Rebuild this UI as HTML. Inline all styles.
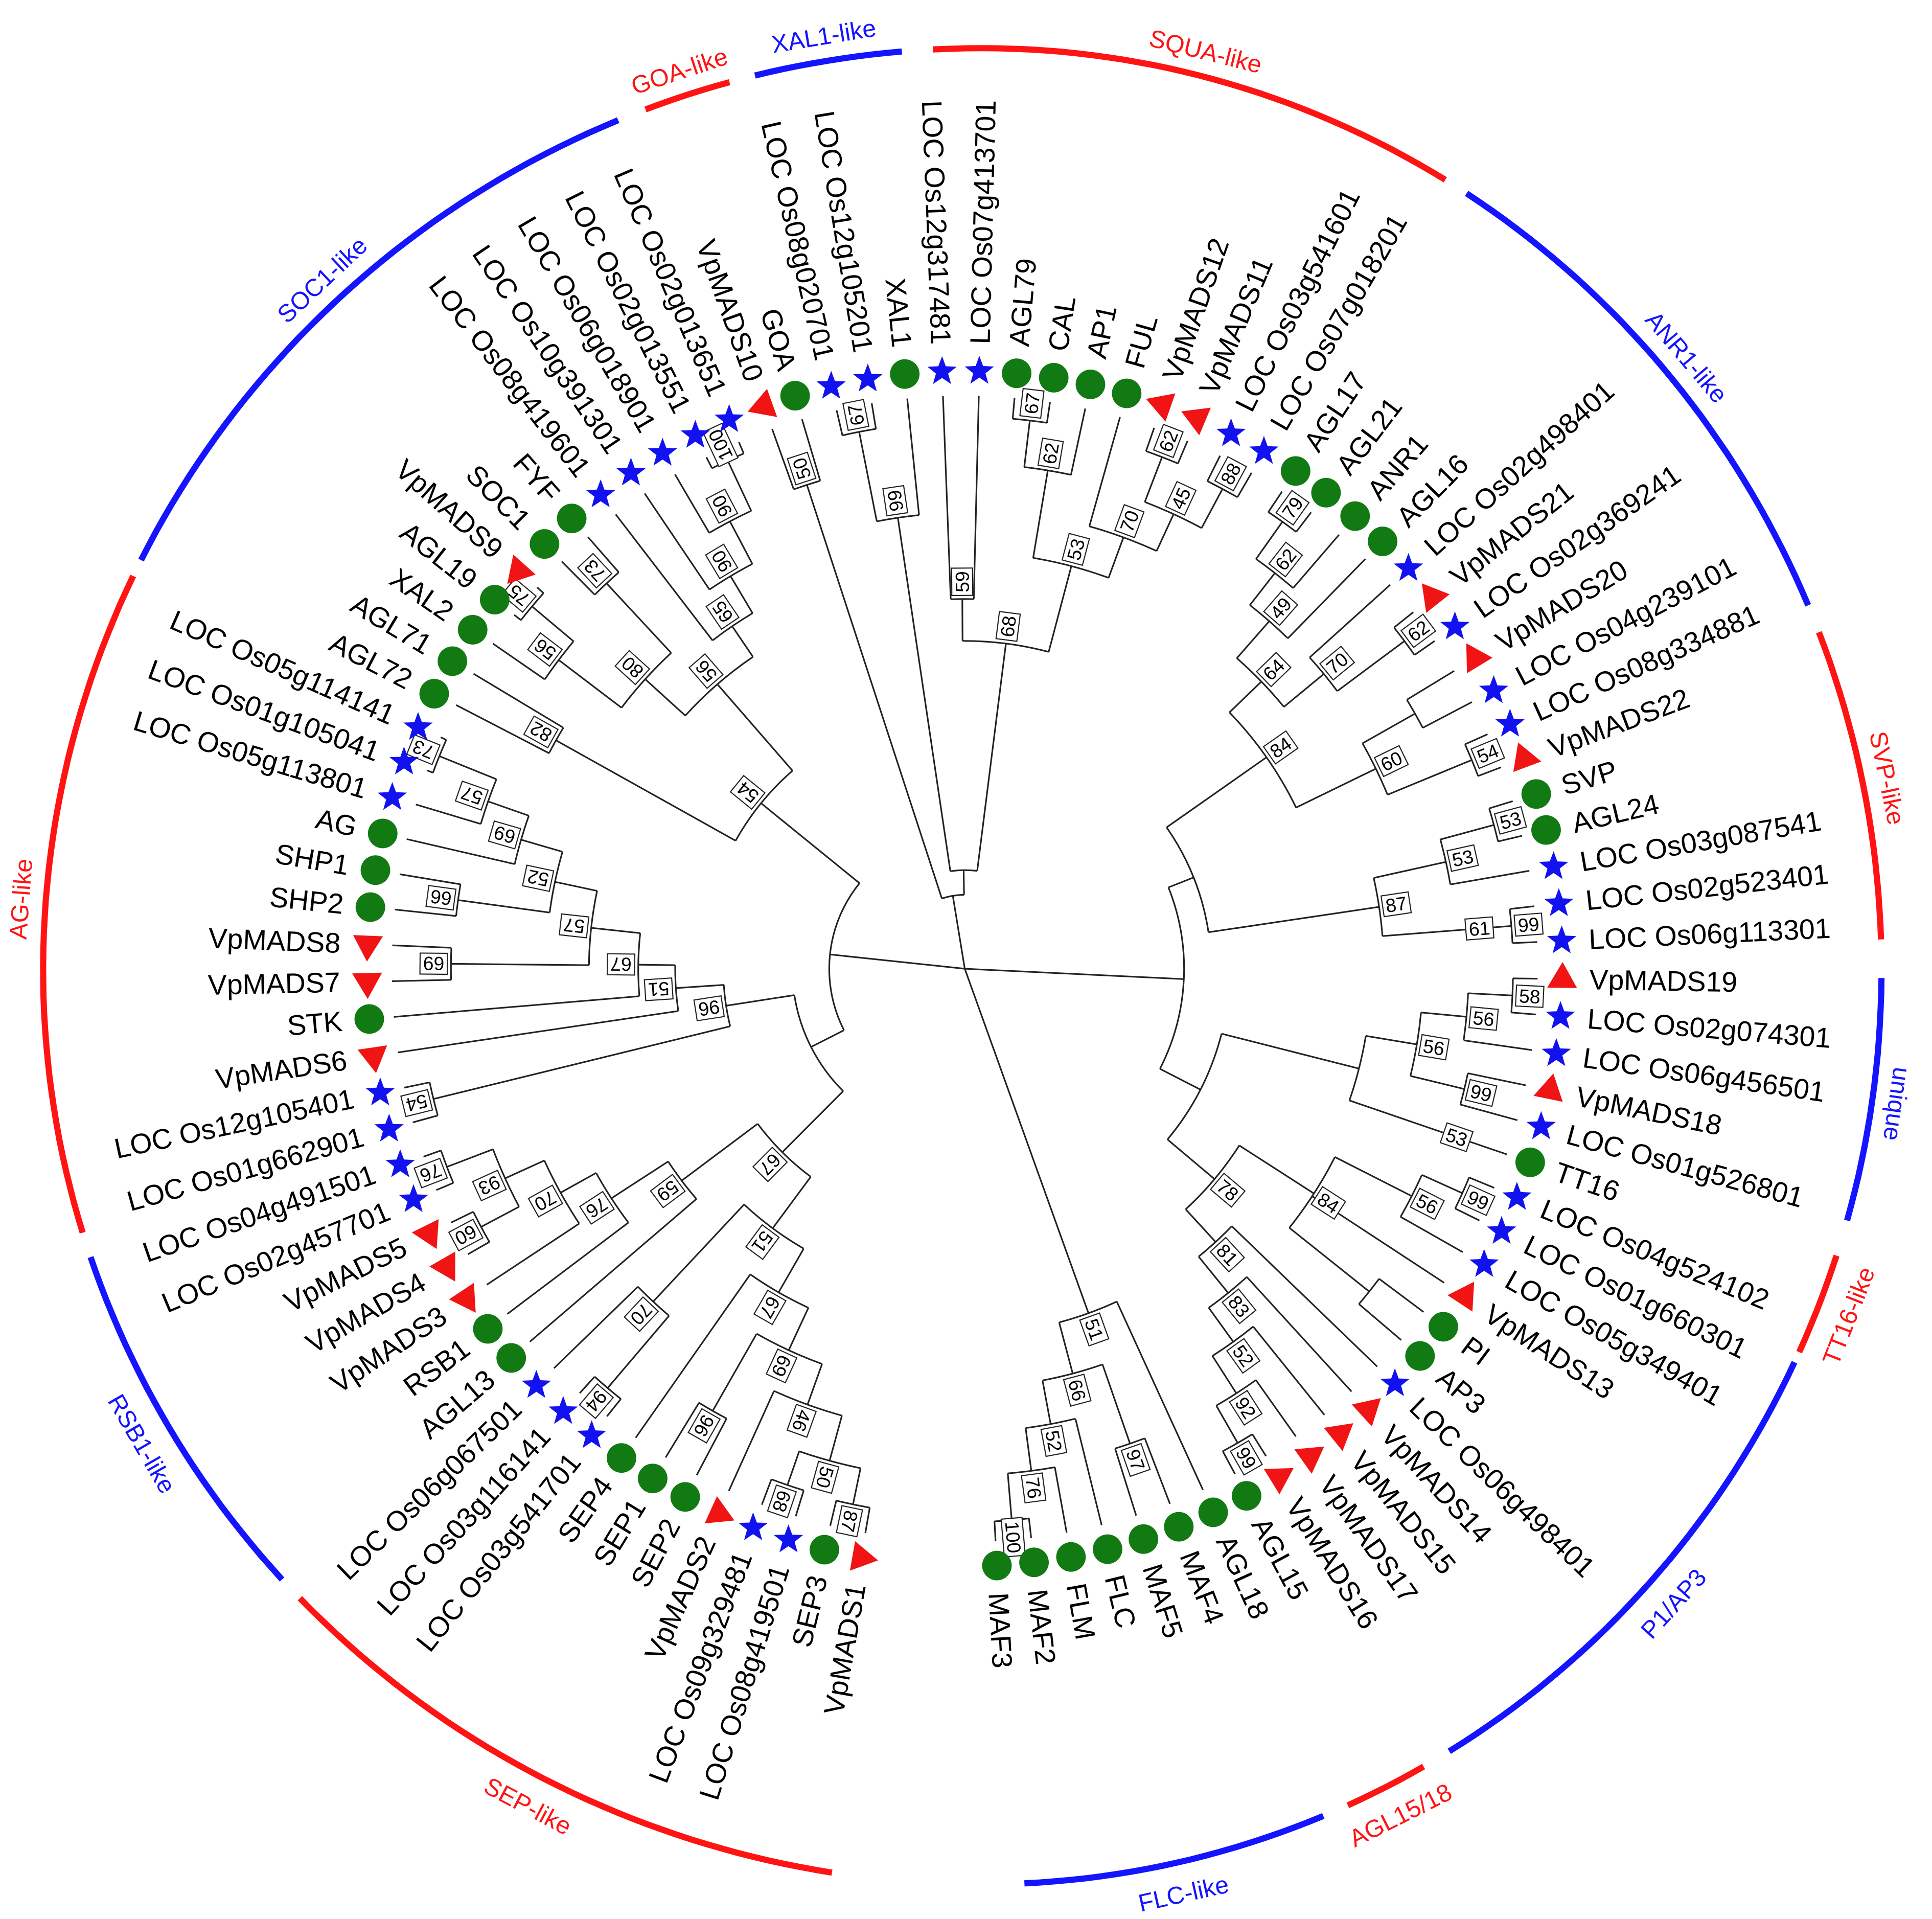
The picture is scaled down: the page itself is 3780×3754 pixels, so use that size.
<!DOCTYPE html>
<html><head><meta charset="utf-8">
<style>
html,body{margin:0;padding:0;background:#fff;}
svg{display:block;}
text{font-family:"Liberation Sans",Arial,sans-serif;}
</style></head>
<body>
<svg id="s" xmlns="http://www.w3.org/2000/svg" width="3780" height="3754" viewBox="0 0 1568 1557"></svg>
<script>
const CX=783, CY=786;
const L=[
['VpMADS19','t'],['LOC Os02g074301','s'],['LOC Os06g456501','s'],['VpMADS18','t'],['LOC Os01g526801','s'],['TT16','c'],['LOC Os04g524102','s'],['LOC Os01g660301','s'],['LOC Os05g349401','s'],['VpMADS13','t'],['PI','c'],['AP3','c'],['LOC Os06g498401','s'],['VpMADS14','t'],['VpMADS15','t'],['VpMADS17','t'],['VpMADS16','t'],['AGL15','c'],['AGL18','c'],['MAF4','c'],['MAF5','c'],['FLC','c'],['FLM','c'],['MAF2','c'],['MAF3','c'],
['VpMADS1','t'],['SEP3','c'],['LOC Os08g419501','s'],['LOC Os09g329481','s'],['VpMADS2','t'],['SEP2','c'],['SEP1','c'],['SEP4','c'],['LOC Os03g541701','s'],['LOC Os03g116141','s'],['LOC Os06g067501','s'],['AGL13','c'],['RSB1','c'],['VpMADS3','t'],['VpMADS4','t'],['VpMADS5','t'],['LOC Os02g457701','s'],['LOC Os04g491501','s'],['LOC Os01g662901','s'],['LOC Os12g105401','s'],['VpMADS6','t'],['STK','c'],['VpMADS7','t'],['VpMADS8','t'],['SHP2','c'],['SHP1','c'],['AG','c'],['LOC Os05g113801','s'],['LOC Os01g105041','s'],['LOC Os05g114141','s'],['AGL72','c'],['AGL71','c'],['XAL2','c'],['AGL19','c'],['VpMADS9','t'],['SOC1','c'],['FYF','c'],['LOC Os08g419601','s'],['LOC Os10g391301','s'],['LOC Os06g018901','s'],['LOC Os02g013551','s'],['LOC Os02g013651','s'],['VpMADS10','t'],
['GOA','c'],['LOC Os08g020701','s'],['LOC Os12g105201','s'],['XAL1','c'],['LOC Os12g317481','s'],['LOC Os07g413701','s'],['AGL79','c'],['CAL','c'],['AP1','c'],['FUL','c'],['VpMADS12','t'],['VpMADS11','t'],['LOC Os03g541601','s'],['LOC Os07g018201','s'],['AGL17','c'],['AGL21','c'],['ANR1','c'],['AGL16','c'],['LOC Os02g498401','s'],['VpMADS21','t'],['LOC Os02g369241','s'],['VpMADS20','t'],['LOC Os04g239101','s'],['LOC Os08g334881','s'],['VpMADS22','t'],['SVP','c'],['AGL24','c'],['LOC Os03g087541','s'],['LOC Os02g523401','s'],['LOC Os06g113301','s']
];
function ang(i){ if(i<25) return 361+3.58*i; if(i<68) return 100+3.58*(i-25); return 253.5+3.58*(i-68);}
function P(r,a){const t=a*Math.PI/180;return [CX+r*Math.cos(t),CY+r*Math.sin(t)];}
function f(v){return v.toFixed(1);}

const SVP=[340,87,[400,53,[445,53,93,94],95],[405,61,[445,99,96,97]]];
const ANR1=[299,84,[335,64,[375,49,[408,62,[445,79,82,83],84],85],[377,70,86,[445,62,87,88]]],[371,60,[420,0,89,90],[445,54,91,92]]];
const UNI=[330,0,[372,56,[409,56,[445,58,0,1],2],[417,99,3,4]],[408,53,5]];
const PI_=[337,84,[407,56,[443,99,6,7],8],9,[420,0,10,11]];
const A15=[265,78,[301,81,[339,83,[373,52,[409,92,[444,99,16,17],15],14],13],12],PI_];
const FLC=[297,51,18,[340,66,[408,97,19,20],[376,52,21,[411,76,22,[449,100,23,24]]]]];
const RIGHT=[178,0,[200,0,ANR1,SVP],[215,0,UNI,[240,0,A15]]];
const SOC=[213,54,[380,82,55,56],[306,56,[350,80,[414,56,[458,75,58,59],57],[427,73,60,61]],[336,65,62,[371,90,63,[410,90,64,[455,100,65,66]]]]]];
const AG=[196,96,[235,51,[265,67,[305,57,[417,69,47,48],[340,52,[415,66,49,50],[375,69,51,[410,57,52,[460,73,53,54]]]]],46],45],[444,54,43,44]];
const RSB=[287,59,[342,76,[375,70,[410,93,[450,76,41,42],[445,60,39,40]],38],37],36];
const SEPa=[376,46,[414,50,[444,87,25,26],[443,68,27,28]],29];
const SEP=[262,51,[303,67,[341,69,SEPa,[413,96,30,31]],32],[370,70,[447,94,33,34],35]];
const LEFT=[110,0,SOC,[140,0,AG,[210,67,RSB,SEP]]];
const SQUA=[338,53,[410,62,[448,67,74,75],76],[373,70,77,[406,45,[445,62,78,79],[442,88,80,81]]]];
const XAL=[370,99,[444,67,69,70],71];
const TOP=[60,0,[413,50,67,68],[80,0,XAL,[266,68,[300,59,72,73],SQUA]]];
const ROOT=[0,0,LEFT,TOP,RIGHT,FLC];

let lines='', boots='';
function draw(n){
  if(typeof n==='number') return {a:ang(n),r:465};
  const r=n[0],b=n[1];
  const ch=n.slice(2).map(draw);
  const as=ch.map(c=>c.a);
  const mn=Math.min(...as), mx=Math.max(...as);
  const a=(mn+mx)/2;
  if(r>0 && mx>mn){
    const p1=P(r,mn),p2=P(r,mx);
    lines+=`<path d="M${f(p1[0])},${f(p1[1])} A${r},${r} 0 ${mx-mn>180?1:0} 1 ${f(p2[0])},${f(p2[1])}"/>`;
  }
  ch.forEach(c=>{const p1=P(r,c.a),p2=P(c.r,c.a);
    lines+=`<line x1="${f(p1[0])}" y1="${f(p1[1])}" x2="${f(p2[0])}" y2="${f(p2[1])}"/>`;});
  if(b){const p=P(r+14,a);const s=String(b);const w=s.length*8.6+5;
    boots+=`<g transform="translate(${f(p[0])},${f(p[1])}) rotate(${f(a%360)})"><rect x="${f(-w/2)}" y="-8.5" width="${f(w)}" height="17" fill="#fff" stroke="#222" stroke-width="0.9"/><text x="0" y="5.5" font-size="15.5" text-anchor="middle">${s}</text></g>`;}
  return {a,r};
}
draw(ROOT);

let marks='', labels='';
L.forEach((l,i)=>{
  const a=ang(i), an=a%360;
  const p=P(485,a);
  if(l[1]==='c') marks+=`<circle cx="${f(p[0])}" cy="${f(p[1])}" r="12" fill="#127a12"/>`;
  else if(l[1]==='s'){let pts=[];for(let k=0;k<10;k++){const rr=k%2?5.2:12.5;const t=(-90+k*36)*Math.PI/180;pts.push(f(p[0]+rr*Math.cos(t))+','+f(p[1]+rr*Math.sin(t)));}
    marks+=`<polygon points="${pts.join(' ')}" fill="#1212f0"/>`;}
  else {const d=a-90;let pts=[];for(let k=0;k<3;k++){const t=(d+k*120)*Math.PI/180;pts.push(f(p[0]+14*Math.cos(t))+','+f(p[1]+14*Math.sin(t)));}
    marks+=`<polygon points="${pts.join(' ')}" fill="#f01414"/>`;}
  const q=P(507,a);
  const flip=an>90&&an<270;
  labels+=`<text x="${f(q[0])}" y="${f(q[1])}" font-size="23" dominant-baseline="central" text-anchor="${flip?'end':'start'}" transform="rotate(${f(flip?an+180:an)} ${f(q[0])} ${f(q[1])})">${l[0]}</text>`;
});

const EX=797,EY=787;
function E(a,o){const t=a*Math.PI/180;const c=Math.cos(t),s=Math.sin(t);
  const rx=c>0?730:762, ry=s>0?742:748;
  return [EX+(rx+o)*c,EY+(ry+o)*s];}
const CL=[['SQUA-like',267,301,'r'],['ANR1-like',302.6,336.7,'b'],['SVP-like',338.5,358.1,'r'],['unique',360.5,375.9,'b'],['TT16-like',378.2,384.7,'r'],['P1/AP3',385.4,418.7,'b'],['AGL15/18',420.6,426,'r'],['FLC-like',427.7,447.3,'b'],['SEP-like',99.2,136.6,'r'],['RSB1-like',138.2,161.7,'b'],['AG-like',163.3,205.3,'r'],['SOC1-like',206.4,247.2,'b'],['GOA-like',249,254.4,'r'],['XAL1-like',256,265.1,'b']];
let cls='';
CL.forEach(c=>{const col=c[3]==='r'?'#ff1414':'#1414ff';
  let pts=[];const N=Math.max(4,Math.ceil((c[2]-c[1])/1));
  for(let k=0;k<=N;k++){const p=E(c[1]+(c[2]-c[1])*k/N,0);pts.push(f(p[0])+','+f(p[1]));}
  cls+=`<polyline points="${pts.join(' ')}" fill="none" stroke="${col}" stroke-width="5"/>`;
  const m=(c[1]+c[2])/2, mn=m%360;
  const bottom=mn>10&&mn<180;
  const q=E(m,bottom?26:20);
  const rot=bottom?mn-90:mn+90;
  cls+=`<text x="${f(q[0])}" y="${f(q[1])}" font-size="20" fill="${col}" text-anchor="middle" dominant-baseline="central" transform="rotate(${f(rot)} ${f(q[0])} ${f(q[1])})">${c[0]}</text>`;
});

document.getElementById('s').innerHTML=
 `<rect width="1568" height="1557" fill="#fff"/>`+
 `<g fill="none" stroke="#222" stroke-width="1.3">${lines}</g>`+boots+marks+labels+cls;
</script>
</body></html>
